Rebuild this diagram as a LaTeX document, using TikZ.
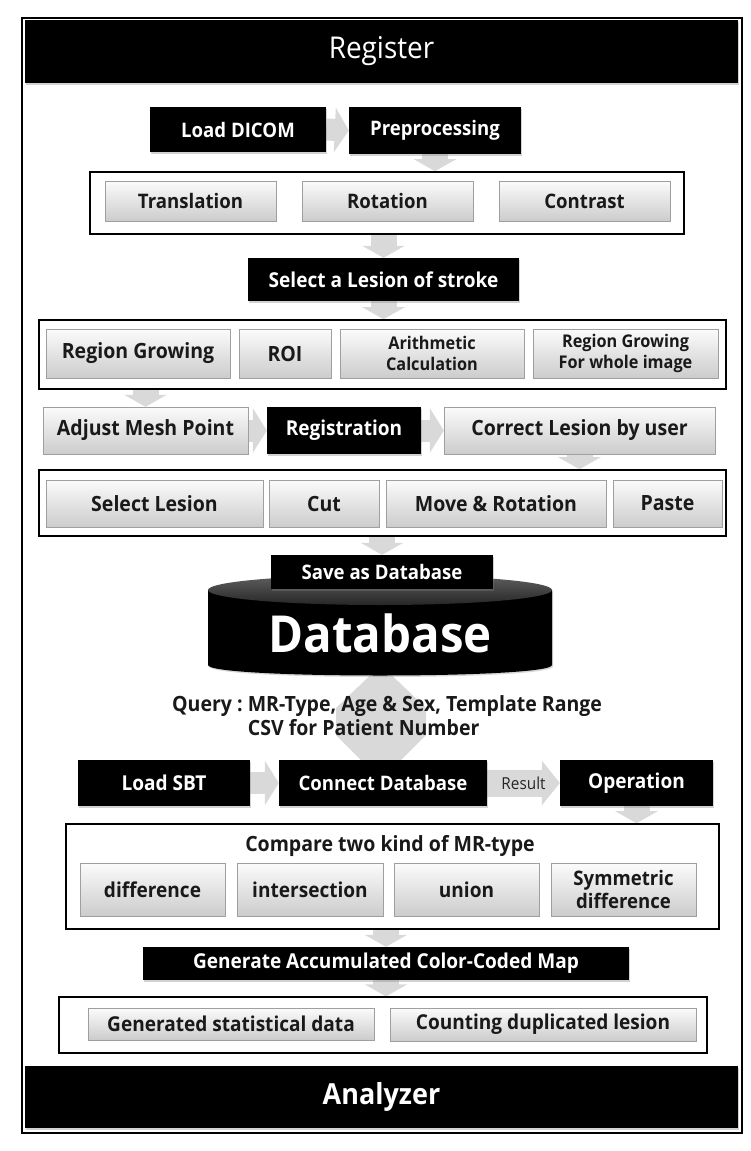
\documentclass[tikz,border=0pt]{standalone}
\usepackage{fontspec}
\setmainfont{Open Sans}[FakeStretch=0.93]
\usetikzlibrary{arrows.meta,shadows,backgrounds}
\newcommand\fsz[2]{\fontsize{#1}{#2}\selectfont}
\tikzset{
  wh/.style 2 args={minimum width=#1pt, minimum height=#2pt},
  blackbox/.style={fill=black, text=white, inner sep=0pt, align=center,
    drop shadow={shadow xshift=1.2pt, shadow yshift=-1.5pt, opacity=0.35}},
  graybox/.style={draw=gray!75, top color=gray!3, bottom color=gray!40, text=black!90,
    inner sep=0pt, align=center,
    drop shadow={shadow xshift=1.2pt, shadow yshift=-1.2pt, opacity=0.25}},
  groupbox/.style={draw=black, line width=1.6pt, fill=white, inner sep=0pt},
  darr/.style={gray!30, line width=26pt, -{Triangle[width=42pt,length=12pt]}},
  harr/.style={gray!30, line width=22pt, -{Triangle[width=44pt,length=14pt]}},
  rarr/.style={gray!30, line width=27pt, -{Triangle[width=44pt,length=18pt]}},
  hexarr/.style={fill=gray!30, draw=none}
}
\begin{document}
\begin{tikzpicture}[x=1pt,y=-1pt]
\useasboundingbox (0,0) rectangle (751,1151);
% outer frame
\draw[line width=1.2pt] (22,18) rectangle (742,1133);

% Register bar
\node[blackbox, wh={713}{63}, font=\fsz{30}{34}] (reg) at (381.5,51.5) {Register};

% row 1
\node[blackbox, wh={176}{45}, font=\fsz{20}{23}\bfseries] (ld) at (238,129.5) {Load DICOM};
\node[blackbox, wh={172}{47}, font=\fsz{20}{23}\bfseries] (pre) at (435,130.5) {Preprocessing};

% box1
\node[groupbox, wh={594}{62}] (box1) at (387,203) {};
\node[graybox, wh={171}{40}, font=\fsz{20}{23}\bfseries] (tr) at (190.5,201) {Translation};
\node[graybox, wh={171}{40}, font=\fsz{20}{23}\bfseries] (rot) at (387.5,201) {Rotation};
\node[graybox, wh={171}{40}, font=\fsz{20}{23}\bfseries] (con) at (584.5,201) {Contrast};

% select lesion
\node[blackbox, wh={271}{43}, font=\fsz{20.5}{23}\bfseries] (sel) at (383.5,279.5) {Select a Lesion of stroke};

% box2
\node[groupbox, wh={687}{69}] (box2) at (382.5,354.5) {};
\node[graybox, wh={184}{49}, font=\fsz{21}{24}\bfseries] (rg) at (138,353.5) {Region Growing};
\node[graybox, wh={92}{49}, font=\fsz{21}{24}\bfseries] (roi) at (285,353.5) {ROI};
\node[graybox, wh={184}{49}, font=\fsz{17.5}{21}\bfseries] (ari) at (432,353.5) {Arithmetic\\Calculation};
\node[graybox, wh={185}{49}, font=\fsz{17.5}{21}\bfseries] (rgw) at (625.5,353.5) {Region Growing\\For whole image};

% row registration
\node[graybox, wh={205}{47}, font=\fsz{21}{24}\bfseries] (adj) at (145.5,430.5) {Adjust Mesh Point};
\node[blackbox, wh={154}{47}, font=\fsz{20.5}{23}\bfseries] (regi) at (344,430.5) {Registration};
\node[graybox, wh={271}{47}, font=\fsz{21}{24}\bfseries] (cor) at (579.5,430.5) {Correct Lesion by user};

% box3
\node[groupbox, wh={687}{66}] (box3) at (382.5,503) {};
\node[graybox, wh={217}{47}, font=\fsz{21}{24}\bfseries] (sl) at (154.5,503.5) {Select Lesion};
\node[graybox, wh={110}{47}, font=\fsz{21}{24}\bfseries] (cut) at (324,503.5) {Cut};
\node[graybox, wh={220}{47}, font=\fsz{21}{24}\bfseries] (mr) at (496,503.5) {Move \& Rotation};
\node[graybox, wh={109}{47}, font=\fsz{21}{24}\bfseries] (pas) at (667.5,503.5) {Paste};

% database cylinder
\coordinate (cyltop) at (380,590);
\fill[black, drop shadow={shadow xshift=1.2pt, shadow yshift=-1.5pt, opacity=0.3}]
  (208,590) -- (208,665) .. controls (208,679) and (552,679) .. (552,665) -- (552,590) -- cycle;
\shade[top color=gray!75!black, bottom color=black!85] (cyltop) ellipse [x radius=172pt, y radius=15pt];
\node[text=white, font=\fsz{51}{56}\bfseries] (db) at (380,633) {Database};
\node[blackbox, wh={222}{34}, font=\fsz{20}{23}\bfseries] (save) at (382,572) {Save as Database};

% query text
\node[anchor=west, inner sep=0pt, text=black!90, font=\fsz{21}{24}\bfseries] (q) at (172,719)
  {\begin{tabular}{@{}l@{\ }l@{}}Query :&MR-Type, Age \& Sex, Template Range\\ &CSV for Patient Number\end{tabular}};

% row load SBT
\node[blackbox, wh={172}{46}, font=\fsz{20.5}{23}\bfseries] (lsbt) at (164,783) {Load SBT};
\node[blackbox, wh={208}{46}, font=\fsz{20}{23}\bfseries] (cdb) at (383,783) {Connect Database};
\node[blackbox, wh={153}{46}, font=\fsz{20.5}{23}\bfseries] (op) at (636.5,783) {Operation};

% box4
\node[groupbox, wh={653}{105}] (box4) at (392.5,876.5) {};
\node[inner sep=0pt, text=black!90, font=\fsz{21}{24}\bfseries] (cmp) at (390,846) {Compare two kind of MR-type};
\node[graybox, wh={145}{53}, font=\fsz{20.5}{23}\bfseries] (dif) at (152.5,889.5) {difference};
\node[graybox, wh={146}{53}, font=\fsz{20.5}{23}\bfseries] (int) at (310,889.5) {intersection};
\node[graybox, wh={145}{53}, font=\fsz{20.5}{23}\bfseries] (uni) at (466.5,889.5) {union};
\node[graybox, wh={145}{53}, font=\fsz{20}{23}\bfseries] (sym) at (623.5,889.5) {Symmetric\\difference};

% generate
\node[blackbox, wh={486}{33}, font=\fsz{20.5}{23}\bfseries] (gen) at (386,963.5) {Generate Accumulated Color-Coded Map};

% box5
\node[groupbox, wh={648}{56}, line width=1.3pt] (box5) at (383,1025) {};
\node[graybox, wh={286}{32}, font=\fsz{20.5}{23}\bfseries] (gsd) at (231,1024) {Generated statistical data};
\node[graybox, wh={306}{33}, font=\fsz{20.5}{23}\bfseries] (cdl) at (543,1024.5) {Counting duplicated lesion};

% Analyzer bar
\node[blackbox, wh={713}{62}, font=\fsz{29}{33}\bfseries] (ana) at (381.5,1097) {Analyzer};

\begin{pgfonlayer}{background}
\fill[white] (0,0) rectangle (751,1151);
\draw[harr] (ld.east) -- (pre.west);
\draw[darr] (pre.south) -- (pre.south |- box1.north);
\draw[darr] (box1.south -| sel.north) -- (sel.north);
\draw[darr] (sel.south) -- (sel.south |- box2.north);
\draw[darr] (box2.south -| adj.north) -- (adj.north);
\draw[harr] (adj.east) -- (regi.west);
\draw[harr] (regi.east) -- (cor.west);
\draw[darr] (cor.south) -- (cor.south |- box3.north);
\draw[darr] (box3.south -| save.north) -- (save.north);
\fill[hexarr] (381,665) -- (426,708) -- (426,735) -- (381,780) -- (336,735) -- (336,708) -- cycle;
\draw[harr] (lsbt.east) -- (cdb.west);
\draw[rarr] (cdb.east) -- (op.west) node[midway, text=black!85, font=\fsz{16.5}{19}] (res) {Result};
\draw[darr] (op.south) -- (op.south |- box4.north);
\draw[darr] (box4.south -| gen.north) -- (gen.north);
\draw[darr] (gen.south) -- (gen.south |- box5.north);
\end{pgfonlayer}
\end{tikzpicture}
\end{document}
